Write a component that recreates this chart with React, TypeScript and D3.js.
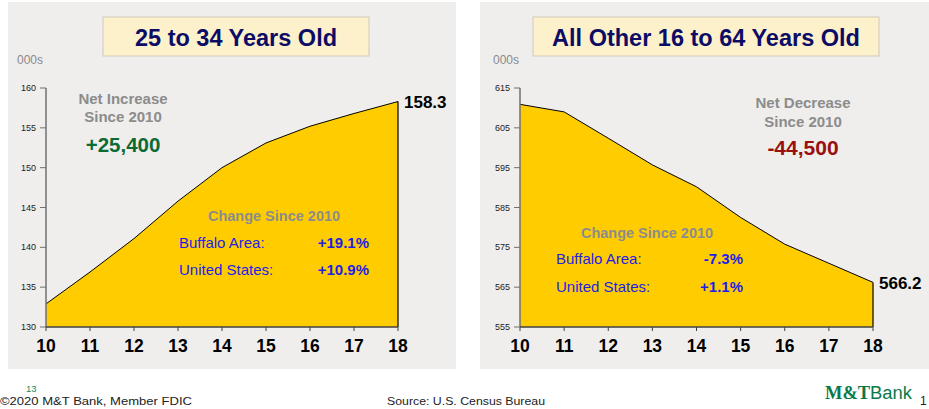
import React from "react";
import * as d3 from "d3";

const years = [10, 11, 12, 13, 14, 15, 16, 17, 18];
const youngValues = [132.9, 136.9, 141.1, 145.8, 150.0, 153.1, 155.2, 156.8, 158.3];
const otherValues = [610.9, 609.0, 602.4, 595.7, 590.2, 582.5, 575.8, 571.0, 566.2];
const youngTicks = [130, 135, 140, 145, 150, 155, 160];
const otherTicks = [555, 565, 575, 585, 595, 605, 615];

const FONT = "Arial, 'Liberation Sans', Helvetica, sans-serif";

type PanelProps = {
  px: number;
  pw: number;
  title: string;
  boxX: number;
  boxW: number;
  values: number[];
  ticks: number[];
  domain: [number, number];
  x0: number;
  x1: number;
  endLabel: string;
  unitX: number;
  children?: React.ReactNode;
};

function Panel(p: PanelProps) {
  const x = d3.scaleLinear().domain([10, 18]).range([p.x0, p.x1]);
  const y = d3.scaleLinear().domain(p.domain).range([327, 88]);
  const pts = years.map((yr, i) => [yr, p.values[i]] as [number, number]);
  const area = d3
    .area<[number, number]>()
    .x((d) => x(d[0]))
    .y0(y(p.domain[0]))
    .y1((d) => y(d[1]));
  const line = d3
    .line<[number, number]>()
    .x((d) => x(d[0]))
    .y((d) => y(d[1]));
  const last = pts[pts.length - 1];
  return (
    <g>
      <rect x={p.px} y={2} width={p.pw} height={367} fill="#efeeed" />
      <rect x={p.boxX} y={17} width={p.boxW} height={39} fill="#fdf1cc" stroke="#cfcabb" strokeWidth={1} />
      <text x={p.boxX + p.boxW / 2} y={46} textAnchor="middle" fontFamily={FONT} fontWeight="bold" fontSize={23.5} fill="#0c0c66">
        {p.title}
      </text>
      <text x={p.unitX} y={64} fontFamily={FONT} fontSize={12} fill="#8a8a8a">000s</text>
      <path d={area(pts) || ""} fill="#ffcc00" />
      <path d={line(pts) || ""} fill="none" stroke="#000" strokeWidth={1} />
      <line x1={x(last[0])} x2={x(last[0])} y1={y(last[1])} y2={y(p.domain[0])} stroke="#000" strokeWidth={1.2} />
      {/* y axis */}
      <line x1={p.x0} x2={p.x0} y1={y(p.domain[1])} y2={y(p.domain[0])} stroke="#707070" strokeWidth={1.5} />
      {p.ticks.map((t) => (
        <g key={t}>
          <line x1={p.x0 - 6} x2={p.x0} y1={y(t)} y2={y(t)} stroke="#707070" strokeWidth={1} />
          <text x={p.x0 - 10} y={y(t)} dy="0.35em" textAnchor="end" fontFamily={FONT} fontSize={9} fill="#222">
            {t}
          </text>
        </g>
      ))}
      {/* x axis */}
      <line x1={p.x0} x2={p.x1} y1={y(p.domain[0])} y2={y(p.domain[0])} stroke="#404040" strokeWidth={1.5} />
      {years.map((yr) => (
        <g key={yr}>
          <line x1={x(yr)} x2={x(yr)} y1={y(p.domain[0])} y2={y(p.domain[0]) + 4} stroke="#404040" strokeWidth={1} />
          <text x={x(yr)} y={352} textAnchor="middle" fontFamily={FONT} fontWeight="bold" fontSize={17.5} fill="#000">
            {yr}
          </text>
        </g>
      ))}
      <text x={x(last[0]) + 6} y={y(last[1])} dy="0.36em" fontFamily={FONT} fontWeight="bold" fontSize={17} fill="#000">
        {p.endLabel}
      </text>
      {p.children}
    </g>
  );
}

export default function App() {
  return (
    <svg
      width={929}
      height={409}
      viewBox="0 0 929 409"
      style={{ position: "absolute", left: 0, top: 0, background: "#fff" }}
    >
      <rect x={0} y={0} width={929} height={409} fill="#fff" />
      <Panel
        px={8}
        pw={448}
        title="25 to 34 Years Old"
        boxX={103}
        boxW={266}
        values={youngValues}
        ticks={youngTicks}
        domain={[130, 160]}
        x0={46}
        x1={398}
        endLabel="158.3"
        unitX={17}
      >
        <text x={123} y={104} textAnchor="middle" fontFamily={FONT} fontWeight="bold" fontSize={15} fill="#8c8c8c">Net Increase</text>
        <text x={123} y={122} textAnchor="middle" fontFamily={FONT} fontWeight="bold" fontSize={15} fill="#8c8c8c">Since 2010</text>
        <text x={123} y={152} textAnchor="middle" fontFamily={FONT} fontWeight="bold" fontSize={20.5} fill="#0b6b33">+25,400</text>
        <text x={274} y={221} textAnchor="middle" fontFamily={FONT} fontWeight="bold" fontSize={14.5} fill="#8c8c8c">Change Since 2010</text>
        <text x={179} y={248} fontFamily={FONT} fontSize={15} fill="#1e1ee6">Buffalo Area:</text>
        <text x={369} y={248} textAnchor="end" fontFamily={FONT} fontWeight="bold" fontSize={15} fill="#1e1ee6">+19.1%</text>
        <text x={179} y={275} fontFamily={FONT} fontSize={15} fill="#1e1ee6">United States:</text>
        <text x={369} y={275} textAnchor="end" fontFamily={FONT} fontWeight="bold" fontSize={15} fill="#1e1ee6">+10.9%</text>
      </Panel>
      <Panel
        px={480}
        pw={449}
        title="All Other 16 to 64 Years Old"
        boxX={533}
        boxW={346}
        values={otherValues}
        ticks={otherTicks}
        domain={[555, 615]}
        x0={520}
        x1={873}
        endLabel="566.2"
        unitX={493}
      >
        <text x={803} y={108} textAnchor="middle" fontFamily={FONT} fontWeight="bold" fontSize={15} fill="#8c8c8c">Net Decrease</text>
        <text x={803} y={127} textAnchor="middle" fontFamily={FONT} fontWeight="bold" fontSize={15} fill="#8c8c8c">Since 2010</text>
        <text x={803} y={155} textAnchor="middle" fontFamily={FONT} fontWeight="bold" fontSize={21} fill="#990f0f">-44,500</text>
        <text x={647} y={238} textAnchor="middle" fontFamily={FONT} fontWeight="bold" fontSize={14.5} fill="#8c8c8c">Change Since 2010</text>
        <text x={556} y={264} fontFamily={FONT} fontSize={15} fill="#1e1ee6">Buffalo Area:</text>
        <text x={743} y={264} textAnchor="end" fontFamily={FONT} fontWeight="bold" fontSize={15} fill="#1e1ee6">-7.3%</text>
        <text x={556} y={292} fontFamily={FONT} fontSize={15} fill="#1e1ee6">United States:</text>
        <text x={743} y={292} textAnchor="end" fontFamily={FONT} fontWeight="bold" fontSize={15} fill="#1e1ee6">+1.1%</text>
      </Panel>
      {/* footer */}
      <text x={0} y={405} fontFamily={FONT} fontSize={11.5} fill="#222" textLength={192} lengthAdjust="spacingAndGlyphs">©2020 M&amp;T Bank, Member FDIC</text>
      <text x={26} y={392} fontFamily={FONT} fontSize={9.5} fill="#1a8a5a">13</text>
      <text x={387} y={405} fontFamily={FONT} fontSize={11.5} fill="#222" textLength={158} lengthAdjust="spacingAndGlyphs">Source:  U.S. Census Bureau</text>
      <text x={825} y={399} fontSize={18} fill="#0a7a4a" textLength={87} lengthAdjust="spacingAndGlyphs">
        <tspan fontFamily="'Liberation Serif', 'DejaVu Serif', serif" fontWeight="bold">M&amp;T</tspan>
        <tspan fontFamily={FONT}>Bank</tspan>
      </text>
      <text x={920} y={405} fontFamily={FONT} fontSize={12} fill="#222">1</text>
    </svg>
  );
}
